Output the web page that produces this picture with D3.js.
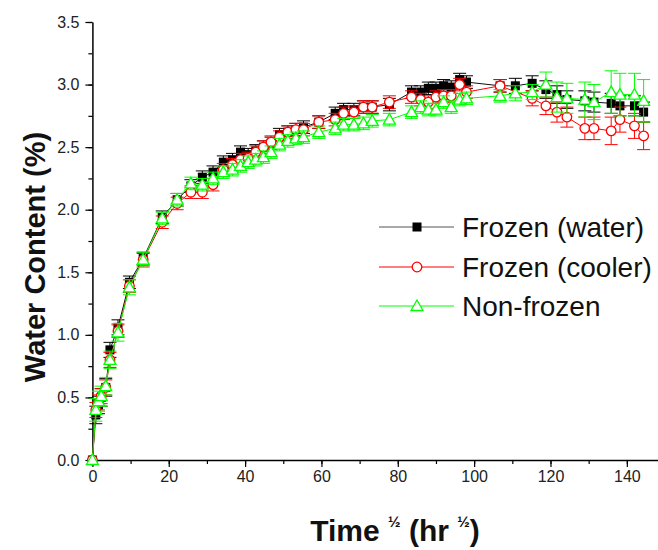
<!DOCTYPE html>
<html><head><meta charset="utf-8">
<script src="https://cdn.jsdelivr.net/npm/d3@7"></script>
<style>body{margin:0;background:#fff}svg{display:block;font-family:Arial,"Liberation Sans",sans-serif}</style>
</head><body><svg id="c" width="658" height="550"></svg>
<script>
const times = [0,0.9,1.6,2.3,3.5,4.6,6.7,9.7,13.3,18.3,22.2,25.8,28.8,31.6,34.3,36.7,38.8,40.8,42.8,44.8,46.8,49.0,51.2,53.3,55.3,59.3,63.6,65.8,68.5,71.0,73.3,77.8,83.6,86.0,88.0,90.0,92.0,94.0,96.2,98.0,106.8,110.8,115.2,118.8,121.7,124.3,129.0,131.4,135.9,138.2,142.0,144.4];
const frozenWater = [0,0.36,0.44,0.50,0.58,0.88,1.06,1.42,1.61,1.94,2.08,2.19,2.26,2.30,2.38,2.40,2.46,2.44,2.47,2.50,2.53,2.60,2.62,2.64,2.66,2.70,2.77,2.80,2.80,2.82,2.82,2.84,2.94,2.94,2.97,2.97,2.99,2.98,3.04,3.02,2.99,2.99,3.01,2.96,2.92,2.88,2.87,2.86,2.85,2.83,2.83,2.78];
const frozenWaterErr = [0,0.07,0.07,0.07,0.07,0.06,0.06,0.05,0.05,0.05,0.05,0.05,0.05,0.05,0.05,0.05,0.05,0.05,0.05,0.05,0.05,0.05,0.05,0.05,0.05,0.05,0.05,0.05,0.05,0.05,0.05,0.05,0.05,0.05,0.05,0.05,0.05,0.05,0.05,0.05,0.05,0.06,0.06,0.07,0.07,0.07,0.08,0.08,0.08,0.08,0.08,0.08];
const frozenCooler = [0,0.40,0.46,0.51,0.58,0.80,1.03,1.39,1.60,1.90,2.05,2.14,2.14,2.20,2.32,2.36,2.40,2.41,2.46,2.50,2.54,2.58,2.62,2.64,2.64,2.70,2.72,2.77,2.78,2.82,2.82,2.86,2.90,2.88,2.86,2.90,2.91,2.91,3.00,2.94,2.99,null,2.89,2.83,2.78,2.74,2.65,2.65,2.63,2.72,2.67,2.59];
const frozenCoolerErr = [0,0.06,0.06,0.06,0.06,0.06,0.05,0.05,0.05,0.05,0.05,0.05,0.05,0.05,0.05,0.05,0.05,0.05,0.05,0.05,0.05,0.05,0.05,0.05,0.05,0.05,0.05,0.05,0.05,0.05,0.05,0.05,0.05,0.05,0.05,0.05,0.05,0.05,0.05,0.05,0.05,0,0.06,0.07,0.08,0.08,0.09,0.09,0.11,0.10,0.10,0.11];
const nonFrozen = [0,0.40,0.47,0.51,0.59,0.80,1.02,1.38,1.60,1.93,2.08,2.21,2.20,2.25,2.30,2.32,2.35,2.38,2.40,2.42,2.46,2.52,2.55,2.57,2.58,2.62,2.65,2.68,2.68,2.69,2.71,2.72,2.78,2.82,2.80,2.80,2.86,2.82,2.88,2.89,2.91,2.93,2.94,3.00,2.90,2.89,2.88,2.86,2.94,2.92,2.92,2.87];
const nonFrozenErr = [0,0.09,0.08,0.08,0.07,0.07,0.07,0.06,0.06,0.05,0.05,0.05,0.05,0.05,0.05,0.05,0.05,0.05,0.05,0.05,0.05,0.05,0.05,0.05,0.05,0.05,0.05,0.05,0.05,0.05,0.05,0.05,0.05,0.05,0.05,0.05,0.05,0.05,0.05,0.05,0.05,0.06,0.06,0.10,0.12,0.12,0.14,0.14,0.17,0.17,0.17,0.17];
const seriesNames = ["Frozen (water)","Frozen (cooler)","Non-frozen"];
const xTicks = [0,20,40,60,80,100,120,140];
const yTicks = [0,0.5,1.0,1.5,2.0,2.5,3.0,3.5];

const svg = d3.select("#c");
const x = d3.scaleLinear().domain([0,150]).range([92.4,665]);
const y = d3.scaleLinear().domain([0,3.5]).range([460,22]);

const series = [
  {name:seriesNames[0], vals:frozenWater, err:frozenWaterErr, color:"#000000", line:"#111111", shape:"square"},
  {name:seriesNames[1], vals:frozenCooler, err:frozenCoolerErr, color:"#ff0000", line:"#ff0000", shape:"circle"},
  {name:seriesNames[2], vals:nonFrozen, err:nonFrozenErr, color:"#00ff00", line:"#00ff00", shape:"triangle"}
];

// axes
const xAxis = svg.append("g").attr("transform","translate(0,460)");
xAxis.call(d3.axisBottom(x).tickValues(d3.range(0,150,10)).tickFormat("").tickSize(4).tickSizeOuter(0));
xAxis.append("g").call(d3.axisBottom(x).tickValues(xTicks).tickFormat(d3.format("d")).tickSize(7).tickPadding(4).tickSizeOuter(0)).call(g=>g.select(".domain").remove());
const yAxis = svg.append("g").attr("transform","translate(92.4,0)");
yAxis.call(d3.axisLeft(y).tickValues(d3.range(0,3.51,0.25)).tickFormat("").tickSize(4).tickSizeOuter(0));
yAxis.append("g").call(d3.axisLeft(y).tickValues(yTicks).tickFormat(d3.format(".1f")).tickSize(7).tickPadding(6).tickSizeOuter(0)).call(g=>g.select(".domain").remove());
svg.selectAll(".domain").attr("stroke","#000").attr("stroke-width",1.5);
svg.selectAll(".tick line").attr("stroke","#000").attr("stroke-width",1.2);
svg.selectAll(".tick text").attr("font-size",16).attr("fill","#222").attr("font-family","Arial, 'Liberation Sans', sans-serif");

// titles
svg.append("text").attr("transform","translate(45,257) rotate(-90)").attr("text-anchor","middle")
  .attr("font-size",29).attr("font-weight","bold").attr("fill","#111").text("Water Content (%)");
const xt = svg.append("text").attr("x",395).attr("y",541).attr("text-anchor","middle")
  .attr("font-size",30).attr("font-weight","bold").attr("fill","#111");
xt.append("tspan").text("Time ");
xt.append("tspan").attr("font-size",15).attr("dy",-14).text("½");
xt.append("tspan").attr("dy",14).text(" (hr ");
xt.append("tspan").attr("font-size",15).attr("dy",-14).text("½");
xt.append("tspan").attr("dy",14).text(")");

function marker(g, shape, color, cx, cy){
  if(shape==="square") g.append("rect").attr("x",cx-4.5).attr("y",cy-4.5).attr("width",9).attr("height",9).attr("fill",color);
  else if(shape==="circle") g.append("circle").attr("cx",cx).attr("cy",cy).attr("r",4.8).attr("fill","#fff").attr("stroke",color).attr("stroke-width",1.3);
  else g.append("path").attr("d",`M${cx},${cy-6}L${cx+6},${cy+4.5}L${cx-6},${cy+4.5}Z`).attr("fill","#fff").attr("stroke",color).attr("stroke-width",1.3);
}

series.forEach(s=>{
  const pts = times.map((t,i)=>({t, v:s.vals[i], e:s.err[i]})).filter(d=>d.v!==null);
  const g = svg.append("g");
  g.append("path").datum(pts).attr("fill","none").attr("stroke",s.line).attr("stroke-width",1)
    .attr("d",d3.line().x(d=>x(d.t)).y(d=>y(d.v)));
  pts.forEach(d=>{
    if(d.e>0){
      const cx=x(d.t);
      g.append("line").attr("x1",cx).attr("x2",cx).attr("y1",y(d.v-d.e)).attr("y2",y(d.v+d.e)).attr("stroke",s.color).attr("stroke-width",1);
      [d.v-d.e,d.v+d.e].forEach(v=>g.append("line").attr("x1",cx-6.5).attr("x2",cx+6.5).attr("y1",y(v)).attr("y2",y(v)).attr("stroke",s.color).attr("stroke-width",1));
    }
  });
  pts.forEach(d=>marker(g,s.shape,s.color,x(d.t),y(d.v)));
});

// legend
const legY=[227,267,306];
series.forEach((s,i)=>{
  const g = svg.append("g");
  g.append("line").attr("x1",379).attr("x2",454).attr("y1",legY[i]).attr("y2",legY[i]).attr("stroke",i===0?"#555":s.line).attr("stroke-width",1.2);
  marker(g,s.shape,s.color,417,legY[i]);
  g.append("text").attr("x",462).attr("y",legY[i]+10).attr("font-size",28).attr("fill","#111").text(s.name);
});
</script></body></html>
